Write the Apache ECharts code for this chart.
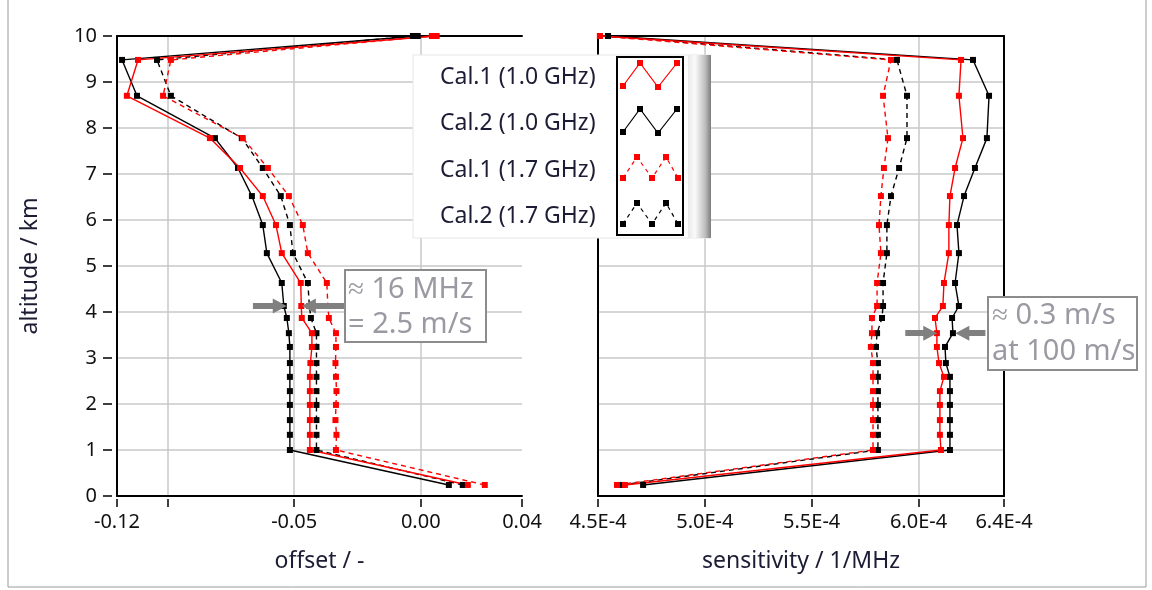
<!DOCTYPE html>
<html>
<head>
<meta charset="utf-8">
<script src="https://cdn.jsdelivr.net/npm/echarts@6/dist/echarts.min.js"></script>
<style>
html,body{margin:0;padding:0;background:#fff;}
#chart{width:1152px;height:590px;}
</style>
</head>
<body>
<div id="chart"></div>
<script>
// ---- data ----
const altitude = [0.24, 1.0, 1.33, 1.65, 1.98, 2.28, 2.59, 2.89, 3.24, 3.54, 3.87, 4.13, 4.63, 5.28, 5.89, 6.52, 7.13, 7.78, 8.7, 9.48, 10.0];

const offsetCal1_10 = [0.0186, -0.0438, -0.0438, -0.0438, -0.0438, -0.0438, -0.0438, -0.0436, -0.0430, -0.0430, -0.0470, -0.0472, -0.0474, -0.0549, -0.0572, -0.0624, -0.0714, -0.0833, -0.1161, -0.1117, 0.0063];
const offsetCal2_10 = [0.0111, -0.0517, -0.0517, -0.0517, -0.0517, -0.0517, -0.0517, -0.0517, -0.0517, -0.0521, -0.0529, -0.0541, -0.0549, -0.0608, -0.0624, -0.0667, -0.0722, -0.0813, -0.1121, -0.1180, -0.0012];
const offsetCal1_17 = [0.0253, -0.0335, -0.0333, -0.0337, -0.0335, -0.0333, -0.0335, -0.0337, -0.0335, -0.0335, -0.0363, -0.0367, -0.0371, -0.0446, -0.0466, -0.0521, -0.0604, -0.0703, -0.1018, -0.0987, 0.0044];
const offsetCal2_17 = [0.0166, -0.0412, -0.0412, -0.0412, -0.0412, -0.0412, -0.0412, -0.0412, -0.0412, -0.0412, -0.0434, -0.0440, -0.0446, -0.0505, -0.0517, -0.0553, -0.0624, -0.0707, -0.0987, -0.1042, -0.0031];

const sensCal1_10 = [4.626e-4, 6.105e-4, 6.100e-4, 6.100e-4, 6.100e-4, 6.100e-4, 6.119e-4, 6.096e-4, 6.086e-4, 6.086e-4, 6.077e-4, 6.114e-4, 6.119e-4, 6.142e-4, 6.142e-4, 6.147e-4, 6.171e-4, 6.208e-4, 6.189e-4, 6.199e-4, 4.509e-4];
const sensCal2_10 = [4.711e-4, 6.147e-4, 6.147e-4, 6.147e-4, 6.147e-4, 6.147e-4, 6.147e-4, 6.128e-4, 6.124e-4, 6.161e-4, 6.157e-4, 6.189e-4, 6.171e-4, 6.189e-4, 6.180e-4, 6.213e-4, 6.264e-4, 6.320e-4, 6.330e-4, 6.255e-4, 4.547e-4];
const sensCal1_17 = [4.589e-4, 5.787e-4, 5.787e-4, 5.787e-4, 5.787e-4, 5.787e-4, 5.787e-4, 5.787e-4, 5.777e-4, 5.782e-4, 5.782e-4, 5.806e-4, 5.806e-4, 5.824e-4, 5.815e-4, 5.824e-4, 5.838e-4, 5.857e-4, 5.834e-4, 5.871e-4, 4.509e-4];
const sensCal2_17 = [4.612e-4, 5.810e-4, 5.810e-4, 5.810e-4, 5.810e-4, 5.810e-4, 5.810e-4, 5.810e-4, 5.801e-4, 5.806e-4, 5.829e-4, 5.834e-4, 5.834e-4, 5.852e-4, 5.852e-4, 5.871e-4, 5.909e-4, 5.946e-4, 5.946e-4, 5.899e-4, 4.547e-4];

const seriesNames = ['Cal.1 (1.0 GHz)', 'Cal.2 (1.0 GHz)', 'Cal.1 (1.7 GHz)', 'Cal.2 (1.7 GHz)'];
const seriesColors = ['#ff0000', '#000000', '#ff0000', '#000000'];
const seriesDashed = [false, false, true, true];

const offsetTicks = [-0.12, -0.1, -0.05, 0, 0.04];
const offsetLabels = [-0.12, -0.05, 0, 0.04];
const offsetGrid = [-0.1, -0.05, 0];
const sensTicks = [4.5e-4, 5.0e-4, 5.5e-4, 6.0e-4, 6.4e-4];
const sensGrid = [5.0e-4, 5.5e-4, 6.0e-4];
const altLabels = [0,1,2,3,4,5,6,7,8,9,10];
const altGrid = [1,2,3,4,5,6,7,8,9];

// annotations (data coords)
const arrowLeftAlt = 4.13;
const arrowRightAlt = 3.54;

// ---- build ----
const FONT = 'Noto Sans';
const TXT = '#1c1c34';
const zip = (xs) => xs.map((x, i) => [x, altitude[i]]);

const offsetSets = [offsetCal1_10, offsetCal2_10, offsetCal1_17, offsetCal2_17];
const sensSets = [sensCal1_10, sensCal2_10, sensCal1_17, sensCal2_17];

function mkSeries(setIdx, data, xi, yi) {
  return {
    name: seriesNames[setIdx], type: 'line', xAxisIndex: xi, yAxisIndex: yi,
    data: zip(data), symbol: 'rect', symbolSize: 6, clip: false,
    lineStyle: { color: seriesColors[setIdx], width: 1.4, type: seriesDashed[setIdx] ? [5, 4] : 'solid' },
    itemStyle: { color: seriesColors[setIdx] },
    emphasis: { disabled: true }, animation: false, z: 3
  };
}
const order = [3, 2, 1, 0];
const series = [];
order.forEach(i => series.push(mkSeries(i, offsetSets[i], 0, 0)));
order.forEach(i => series.push(mkSeries(i, sensSets[i], 3, 2)));

const arrowStyle = { color: '#808080', width: 6, type: 'solid' };
function arrowLine(list) {
  return {
    silent: true, animation: false, symbol: ['none', 'triangle'], symbolSize: [15, 14],
    label: { show: false }, lineStyle: arrowStyle, itemStyle: { color: '#808080' },
    emphasis: { disabled: true },
    data: list.map(p => [{ coord: [p[0], p[2]] }, { coord: [p[1], p[2]] }])
  };
}
series.push({ type: 'line', xAxisIndex: 0, yAxisIndex: 0, data: [], z: 6,
  markLine: arrowLine([[-0.0663, -0.0557, arrowLeftAlt], [-0.0300, -0.0442, arrowLeftAlt]]) });
series.push({ type: 'line', xAxisIndex: 3, yAxisIndex: 2, data: [], z: 6,
  markLine: arrowLine([[5.938e-4, 6.055e-4, arrowRightAlt], [6.313e-4, 6.205e-4, arrowRightAlt]]) });

const black = { color: '#000', width: 2 };
const splitStyle = { show: true, lineStyle: { color: '#c8c8c8', width: 1.5 } };
const lblStyle = { color: '#111', fontFamily: FONT, fontSize: 20 };
const nameStyle = { color: TXT, fontFamily: FONT, fontSize: 23 };

const xAxis = [
  { gridIndex: 0, type: 'value', min: -0.12, max: 0.04, position: 'bottom',
    axisLine: { show: true, onZero: false, lineStyle: black }, axisTick: { show: false, customValues: offsetGrid },
    axisLabel: Object.assign({ customValues: offsetLabels, margin: 16, showMinLabel: true, showMaxLabel: true,
      formatter: v => v.toFixed(2) }, lblStyle),
    splitLine: splitStyle,
    name: 'offset / -', nameLocation: 'middle', nameGap: 54, nameTextStyle: nameStyle },
  { gridIndex: 0, type: 'value', min: -0.12, max: 0.04, position: 'bottom', offset: 3,
    axisLine: { show: false, onZero: false }, axisTick: { show: true, customValues: offsetTicks, length: 8, lineStyle: { color: '#000', width: 1.5 } },
    axisLabel: { show: false }, splitLine: { show: false } },
  { gridIndex: 0, type: 'value', min: -0.12, max: 0.04, position: 'top',
    axisLine: { show: true, onZero: false, lineStyle: black }, axisTick: { show: false }, axisLabel: { show: false }, splitLine: { show: false } },
  { gridIndex: 1, type: 'value', min: 4.5e-4, max: 6.4e-4, position: 'bottom',
    axisLine: { show: true, onZero: false, lineStyle: black }, axisTick: { show: false, customValues: sensGrid },
    axisLabel: Object.assign({ customValues: sensTicks, margin: 16, showMinLabel: true, showMaxLabel: true,
      formatter: v => v.toExponential(1).toUpperCase() }, lblStyle),
    splitLine: splitStyle,
    name: 'sensitivity / 1/MHz', nameLocation: 'middle', nameGap: 54, nameTextStyle: nameStyle },
  { gridIndex: 1, type: 'value', min: 4.5e-4, max: 6.4e-4, position: 'bottom', offset: 3,
    axisLine: { show: false, onZero: false }, axisTick: { show: true, customValues: sensTicks, length: 8, lineStyle: { color: '#000', width: 1.5 } },
    axisLabel: { show: false }, splitLine: { show: false } },
  { gridIndex: 1, type: 'value', min: 4.5e-4, max: 6.4e-4, position: 'top',
    axisLine: { show: true, onZero: false, lineStyle: black }, axisTick: { show: false }, axisLabel: { show: false }, splitLine: { show: false } }
];

const yAxis = [
  { gridIndex: 0, type: 'value', min: 0, max: 10, interval: 1, position: 'left',
    axisLine: { show: true, onZero: false, lineStyle: black }, axisTick: { show: false, customValues: altGrid },
    axisLabel: Object.assign({ customValues: altLabels, margin: 20 }, lblStyle),
    splitLine: splitStyle,
    name: 'altitude / km', nameLocation: 'middle', nameGap: 75, nameTextStyle: nameStyle },
  { gridIndex: 0, type: 'value', min: 0, max: 10, interval: 1, position: 'left', offset: 5,
    axisLine: { show: false, onZero: false }, axisTick: { show: true, length: 9, lineStyle: { color: '#000', width: 1.5 } },
    axisLabel: { show: false }, splitLine: { show: false } },
  { gridIndex: 1, type: 'value', min: 0, max: 10, interval: 1, position: 'left',
    axisLine: { show: true, onZero: false, lineStyle: black }, axisTick: { show: false, customValues: altGrid },
    axisLabel: { show: false }, splitLine: splitStyle },
  { gridIndex: 1, type: 'value', min: 0, max: 10, interval: 1, position: 'right',
    axisLine: { show: true, onZero: false, lineStyle: black }, axisTick: { show: false }, axisLabel: { show: false }, splitLine: { show: false } }
];

// legend (graphic)
const Z = 100;
const legendRows = [77, 123, 170, 216];
const legendEls = [
  { type: 'rect', z: Z, shape: { x: 413, y: 55, width: 297, height: 183 }, style: { fill: '#fff', stroke: '#e6e6e6', lineWidth: 1 } },
  { type: 'rect', z: Z + 1, shape: { x: 688, y: 55, width: 23, height: 183 },
    style: { fill: new echarts.graphic.LinearGradient(0, 0, 1, 0, [
      { offset: 0, color: '#e8e8e8' }, { offset: 0.3, color: '#fafafa' }, { offset: 0.75, color: '#bdbdbd' }, { offset: 1, color: '#7d7d7d' }]) } },
  { type: 'rect', z: Z + 1, shape: { x: 617, y: 57, width: 66, height: 178 }, style: { fill: '#fff', stroke: '#000', lineWidth: 2 } }
];
const zigA = [[623, 22], [640, -1], [658, 23], [677, -1]];
const zigB = [[623, 21], [637, 0], [652, 21], [666, 0], [678, 21]];
legendRows.forEach((cy, i) => {
  legendEls.push({ type: 'text', z: Z + 2, style: { text: seriesNames[i], x: 440, y: cy, fill: TXT, fontSize: 23, fontFamily: FONT, verticalAlign: 'middle', align: 'left' } });
  const base = cy - 13;
  const pts = (seriesDashed[i] ? zigB : zigA).map(p => [p[0], base + p[1]]);
  legendEls.push({ type: 'polyline', z: Z + 2, shape: { points: pts },
    style: { stroke: seriesColors[i], lineWidth: 1.2, fill: null, lineDash: seriesDashed[i] ? [4, 4] : null } });
  pts.forEach(p => legendEls.push({ type: 'rect', z: Z + 3, shape: { x: p[0] - 3, y: p[1] - 3, width: 6, height: 6 }, style: { fill: seriesColors[i] } }));
});

// annotation boxes
const annColor = '#9a9aa2';
const annText = (t, x, y) => ({ type: 'text', z: Z + 2, style: { text: t, x: x, y: y, fill: annColor, fontSize: 29, fontFamily: FONT, verticalAlign: 'middle' } });
const annEls = [
  { type: 'rect', z: Z, shape: { x: 345, y: 270, width: 141, height: 72 }, style: { fill: '#fff', stroke: '#8c8c8c', lineWidth: 2 } },
  annText('≈ 16 MHz', 348, 290),
  annText('= 2.5 m/s', 348, 325),
  { type: 'rect', z: Z, shape: { x: 988, y: 297, width: 149, height: 73 }, style: { fill: '#fff', stroke: '#8c8c8c', lineWidth: 2 } },
  annText('≈ 0.3 m/s', 992, 316),
  annText('at 100 m/s', 992, 352),
  { type: 'rect', z: Z, shape: { x: 8, y: -2, width: 1138, height: 589 }, style: { fill: null, stroke: '#9a9a9a', lineWidth: 1 } }
];

const chart = echarts.init(document.getElementById('chart'), null, { renderer: 'canvas' });
chart.setOption({
  animation: false,
  backgroundColor: '#fff',
  grid: [
    { left: 117, top: 36, width: 405, height: 460, containLabel: false },
    { left: 598, top: 36, width: 406, height: 460, containLabel: false }
  ],
  xAxis: xAxis,
  yAxis: yAxis,
  series: series,
  graphic: legendEls.concat(annEls)
});
</script>
</body>
</html>
